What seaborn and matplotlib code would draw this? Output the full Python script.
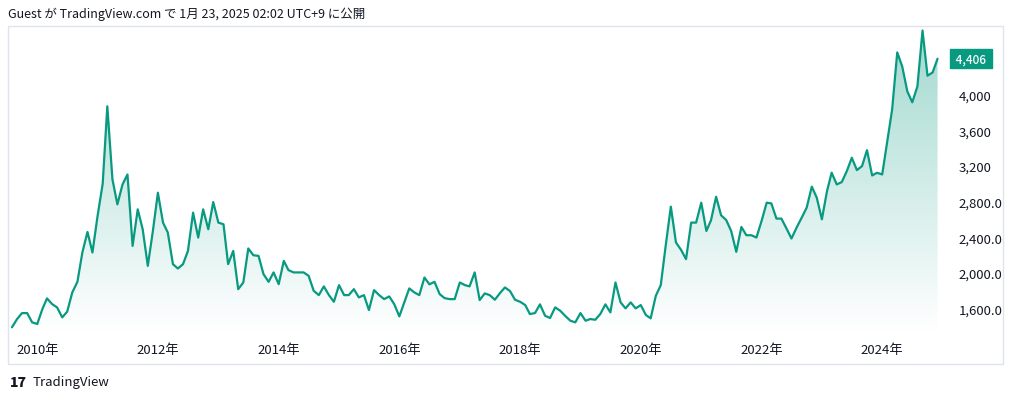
import numpy as np
import pandas as pd
import matplotlib
matplotlib.use("Agg")
import matplotlib.pyplot as plt
import matplotlib.dates as mdates
from matplotlib.patches import Rectangle
import seaborn as sns

# monthly closes (Aug 2009 .. Dec 2024)
price_2009 = [1387, 1480, 1547, 1547, 1443]
price_2010 = [1424, 1592, 1712, 1648, 1611, 1499, 1562, 1779, 1898, 2228, 2459, 2228]
price_2011 = [2638, 3000, 3871, 3049, 2769, 2993, 3105, 2302, 2713, 2489, 2078, 2460]
price_2012 = [2900, 2564, 2452, 2097, 2048, 2097, 2246, 2676, 2396, 2713, 2489, 2795]
price_2013 = [2564, 2545, 2097, 2246, 1816, 1891, 2273, 2197, 2190, 1985, 1898, 2004]
price_2014 = [1872, 2134, 2030, 2004, 2004, 2004, 1966, 1797, 1749, 1847, 1749, 1674]
price_2015 = [1861, 1749, 1749, 1816, 1723, 1749, 1581, 1805, 1749, 1704, 1734, 1648]
price_2016 = [1510, 1674, 1824, 1779, 1749, 1947, 1870, 1898, 1760, 1715, 1704, 1704]
price_2017 = [1891, 1861, 1847, 2004, 1693, 1768, 1749, 1697, 1772, 1835, 1794, 1697]
price_2018 = [1674, 1637, 1536, 1547, 1645, 1517, 1491, 1611, 1573, 1515, 1461, 1443]
price_2019 = [1547, 1461, 1480, 1472, 1536, 1645, 1555, 1891, 1667, 1600, 1667, 1600]
price_2020 = [1637, 1525, 1488, 1741, 1861, 2321, 2743, 2340, 2257, 2153, 2564, 2564]
price_2021 = [2788, 2470, 2590, 2855, 2646, 2593, 2470, 2235, 2515, 2422, 2422, 2396]
price_2022 = [2582, 2788, 2780, 2609, 2609, 2497, 2385, 2508, 2620, 2732, 2968, 2844]
price_2023 = [2601, 2918, 3125, 2993, 3019, 3143, 3293, 3154, 3199, 3378, 3094, 3124]
price_2024 = [3105, 3480, 3834, 4477, 4320, 4039, 3916, 4095, 4723, 4215, 4252, 4406]

year_ticks = [2010, 2012, 2014, 2016, 2018, 2020, 2022, 2024]
y_ticks = [1600, 2000, 2400, 2800, 3200, 3600, 4000]
y_tick_labels = ["1,600.0", "2,000.0", "2,400.0", "2,800.0", "3,200", "3,600", "4,000"]
last_label = "4,406"
title = "Guest が TradingView.com で 1月 23, 2025 02:02 UTC+9 に公開"

prices = (price_2009 + price_2010 + price_2011 + price_2012 + price_2013 + price_2014
          + price_2015 + price_2016 + price_2017 + price_2018 + price_2019 + price_2020
          + price_2021 + price_2022 + price_2023 + price_2024)
dates = pd.date_range("2009-08-01", periods=len(prices), freq="MS")
df = pd.DataFrame({"date": dates, "price": prices})

sns.set_theme(style="white")
plt.rcParams["font.family"] = ["Noto Sans CJK JP", "DejaVu Sans"]

green = "#089981"
text_col = "#131722"
W, H = 1024, 402
fig = plt.figure(figsize=(W / 100, H / 100), dpi=100)

# axes in pixel coordinates
l, r, t, b = 8, 945, 27, 336
ax = fig.add_axes([l / W, 1 - b / H, (r - l) / W, (b - t) / H])

sns.lineplot(data=df, x="date", y="price", ax=ax, color=green, linewidth=1.6, zorder=3)

x0 = mdates.date2num(pd.Timestamp("2009-07-08"))
x1 = mdates.date2num(pd.Timestamp("2025-01-15"))
y0, y1 = 1300.6, 4773.8
ax.set_xlim(x0, x1)
ax.set_ylim(y0, y1)

# gradient area under the line
poly = ax.fill_between(df["date"], df["price"], y0, color="none", linewidth=0)
grad = np.zeros((256, 1, 4))
grad[:, 0, 0] = 8 / 255
grad[:, 0, 1] = 153 / 255
grad[:, 0, 2] = 129 / 255
grad[:, 0, 3] = np.linspace(0.38, 0.0, 256)
im = ax.imshow(grad, extent=[x0, x1, y0, y1], aspect="auto", origin="upper", zorder=2)
im.set_clip_path(poly.get_paths()[0], transform=ax.transData)

# axes styling
for s in ax.spines.values():
    s.set_visible(False)
ax.set_xlabel("")
ax.set_ylabel("")
ax.grid(False)
ax.set_xticks([mdates.date2num(pd.Timestamp(f"{y}-01-01")) for y in year_ticks])
ax.set_xticklabels([f"{y}年" for y in year_ticks], fontsize=9.5, color=text_col)
ax.tick_params(axis="x", length=0, pad=6)
ax.yaxis.tick_right()
ax.set_yticks(y_ticks)
ax.set_yticklabels(y_tick_labels, fontsize=9.5, color=text_col)
ax.tick_params(axis="y", length=0, pad=10)

# last price tag
ax.annotate(f" {last_label} ", xy=(1.0, prices[-1]), xycoords=("axes fraction", "data"),
            xytext=(26, 0), textcoords="offset pixels", ha="center", va="center",
            fontsize=8.5, color="white", fontweight="medium",
            bbox=dict(boxstyle="square,pad=0.25", fc=green, ec=green))

# outer frame
fig.patches.append(Rectangle((8 / W, 1 - 365 / H), (1003 - 8) / W, (365 - 27) / H,
                             transform=fig.transFigure, fill=False,
                             ec="#e0e3eb", lw=1, zorder=0))

fig.text(8 / W, 1 - 14 / H, title, fontsize=9, color=text_col, va="center", ha="left")
fig.text(10 / W, 1 - 383 / H, "17", fontsize=10, fontweight="heavy", color=text_col,
         va="center", ha="left")
fig.text(33 / W, 1 - 383 / H, "TradingView", fontsize=9.5, color=text_col,
         va="center", ha="left")

fig.savefig("out.png", dpi=100)
